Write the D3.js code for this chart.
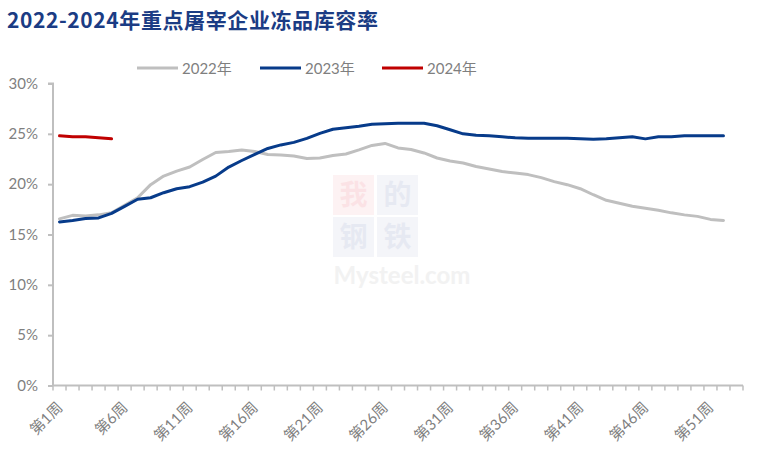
<!DOCTYPE html>
<html><head><meta charset="utf-8">
<script src="https://cdn.jsdelivr.net/npm/d3@7"></script>
<style>
html,body{margin:0;padding:0;background:#fff;}
svg{display:block;}
</style></head>
<body>
<svg id="chart" width="770" height="463"></svg>
<script>
const title = "2022-2024年重点屠宰企业冻品库容率";
const weeks = d3.range(1, 54); // 第1周 .. 第53周 categories
const tickWeeks = [1, 6, 11, 16, 21, 26, 31, 36, 41, 46, 51];
const yTicks = [0, 0.05, 0.10, 0.15, 0.20, 0.25, 0.30];
const seriesNames = ["2022年", "2023年", "2024年"];
const seriesColors = ["#BFBFBF", "#073B8A", "#C00000"];

const v2022 = [16.55, 16.9, 16.85, 16.95, 17.15, 17.9, 18.65, 19.95, 20.8, 21.3,
  21.7, 22.45, 23.15, 23.25, 23.4, 23.25, 22.95, 22.9, 22.8, 22.55,
  22.6, 22.85, 23.0, 23.4, 23.85, 24.05, 23.6, 23.45, 23.1, 22.6,
  22.3, 22.1, 21.75, 21.5, 21.25, 21.1, 20.95, 20.65, 20.25, 19.95,
  19.55, 18.95, 18.4, 18.1, 17.8, 17.6, 17.4, 17.15, 16.95, 16.8,
  16.5, 16.4];
const v2023 = [16.25, 16.4, 16.6, 16.65, 17.1, 17.8, 18.5, 18.65, 19.15, 19.55,
  19.75, 20.2, 20.8, 21.7, 22.35, 22.95, 23.55, 23.9, 24.15, 24.55,
  25.05, 25.45, 25.6, 25.75, 25.95, 26.0, 26.05, 26.05, 26.05, 25.8,
  25.4, 25.0, 24.85, 24.8, 24.7, 24.6, 24.55, 24.55, 24.55, 24.55,
  24.5, 24.45, 24.5, 24.6, 24.7, 24.5, 24.7, 24.7, 24.8, 24.8,
  24.8, 24.8];
const v2024 = [24.8, 24.7, 24.7, 24.6, 24.5];
const seriesValues = [v2022, v2023, v2024];

const svg = d3.select("#chart");
const axisColor = "#BFBFBF";
const textColor = "#7F7F7F";
const latin = "Lato, 'Noto Sans CJK SC', sans-serif";

const x = d3.scaleBand().domain(weeks).range([53, 743]).padding(0);
const y = d3.scaleLinear().domain([0, 0.30]).range([385.5, 83.5]);

// title
svg.append("text").attr("x", 7).attr("y", 28)
  .attr("font-family", "'Noto Sans CJK SC', sans-serif")
  .attr("font-weight", "bold").attr("font-size", 21)
  .attr("letter-spacing", 0.6)
  .attr("fill", "#1B3C84").text(title);

// watermark
const wm = svg.append("g");
const wmCells = [["我", 333, 175, "#E0001B"], ["的", 377, 175, "#1F3A8A"], ["钢", 333, 217, "#1F3A8A"], ["铁", 377, 217, "#1F3A8A"]];
wmCells.forEach(([ch, cx, cy, col]) => {
  wm.append("rect").attr("x", cx).attr("y", cy).attr("width", 41).attr("height", 40)
    .attr("fill", col).attr("opacity", 0.05);
  wm.append("text").attr("x", cx + 20.5).attr("y", cy + 30).attr("text-anchor", "middle")
    .attr("font-family", "'Noto Sans CJK SC', serif").attr("font-weight", "bold").attr("font-size", 28)
    .attr("fill", col).attr("opacity", 0.06).text(ch);
});
svg.append("text").attr("x", 402).attr("y", 284).attr("text-anchor", "middle")
  .attr("font-family", "Lato, sans-serif").attr("font-weight", "bold").attr("font-size", 24)
  .attr("fill", "#E6E6E6").attr("opacity", 0.5).text("Mysteel.com");

// y axis
const yAxis = d3.axisLeft(y).tickValues(yTicks).tickFormat(d3.format(".0%")).tickSize(5).tickPadding(10);
const gy = svg.append("g").attr("transform", "translate(53,0)").call(yAxis);
gy.select(".domain").attr("stroke", axisColor).attr("stroke-width", 2).attr("d", `M-5,${y(0.30)}H0V${y(0)}`);
gy.selectAll(".tick line").attr("stroke", axisColor).attr("stroke-width", 2);
gy.selectAll(".tick text").attr("fill", textColor).attr("font-family", latin).attr("font-size", 15);

// x axis
const gx = svg.append("g").attr("transform", `translate(0,${y(0)})`);
gx.append("line").attr("x1", 53).attr("x2", 743).attr("y1", 0).attr("y2", 0)
  .attr("stroke", axisColor).attr("stroke-width", 2);
const bounds = weeks.map(w => x(w)).concat([x(53) + x.bandwidth()]);
gx.selectAll("line.tk").data(bounds).join("line").attr("class", "tk")
  .attr("x1", d => d).attr("x2", d => d).attr("y1", 0).attr("y2", 5)
  .attr("stroke", axisColor).attr("stroke-width", 1.5);
gx.selectAll("text.lbl").data(tickWeeks).join("text").attr("class", "lbl")
  .attr("transform", d => `translate(${x(d) + x.bandwidth() / 2 + 4},${23}) rotate(-45)`)
  .attr("text-anchor", "end")
  .attr("fill", textColor).attr("font-family", latin).attr("font-size", 15)
  .text(d => `第${d}周`);

// lines
const line = d3.line()
  .x((d, i) => x(weeks[i]) + x.bandwidth() / 2)
  .y(d => y(d / 100));
seriesValues.forEach((vals, k) => {
  svg.append("path").datum(vals).attr("d", line)
    .attr("fill", "none").attr("stroke", seriesColors[k]).attr("stroke-width", 3)
    .attr("stroke-linejoin", "round").attr("stroke-linecap", "round");
});

// legend
const legendX = [137, 260, 382];
seriesNames.forEach((name, k) => {
  const g = svg.append("g").attr("transform", `translate(${legendX[k]},68)`);
  g.append("line").attr("x1", 0).attr("x2", 41).attr("y1", 0).attr("y2", 0)
    .attr("stroke", seriesColors[k]).attr("stroke-width", 3);
  g.append("text").attr("x", 45).attr("y", 5.5).attr("fill", textColor)
    .attr("font-family", latin).attr("font-size", 15).text(name);
});
</script>
</body></html>
